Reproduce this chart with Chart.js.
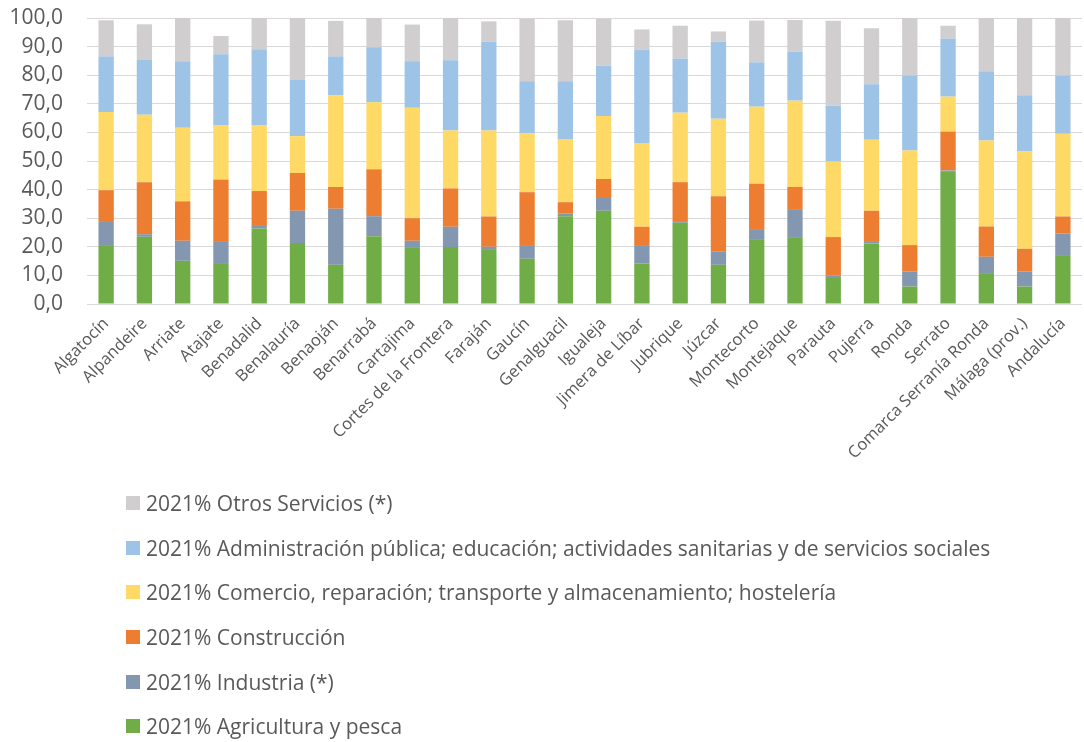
<!DOCTYPE html>
<html>
<head>
<meta charset="utf-8">
<script src="https://cdn.jsdelivr.net/npm/chart.js@4/dist/chart.umd.min.js"></script>
<style>
  body { margin: 0; background: #fff; }
  #wrap { position: relative; width: 1084px; height: 742px; }
  #legend { position: absolute; left: 126px; top: 481px; font-family: 'Open Sans', sans-serif; font-size: 21px; color: #595959; }
  .item { display: flex; align-items: center; height: 44.6px; white-space: nowrap; }
  .box { width: 14px; height: 14px; margin-right: 6px; }
</style>
</head>
<body>
<div id="wrap">
  <canvas id="chart" width="1084" height="742"></canvas>
  <div id="legend"></div>
</div>
<script>
// Municipios
const categories = ['Algatocín', 'Alpandeire', 'Arriate', 'Atajate', 'Benadalid', 'Benalauría', 'Benaoján',
  'Benarrabá', 'Cartajima', 'Cortes de la Frontera', 'Faraján', 'Gaucín', 'Genalguacil', 'Igualeja',
  'Jimera de Líbar', 'Jubrique', 'Júzcar', 'Montecorto', 'Montejaque', 'Parauta', 'Pujerra', 'Ronda',
  'Serrato', 'Comarca Serranía Ronda', 'Málaga (prov.)', 'Andalucía'];

// % of employment by sector, 2021
const agricultura = [20.6, 23.5, 15.1, 14.0, 26.4, 21.3, 13.7, 23.7, 19.6, 19.9, 18.9, 15.8, 30.7, 32.6,
  14.1, 28.4, 13.7, 22.4, 23.1, 9.1, 21.1, 6.1, 46.2, 10.8, 6.1, 16.8];
const industria = [8.4, 0.9, 7.0, 7.7, 1.2, 11.3, 19.6, 7.0, 2.5, 7.1, 1.1, 4.5, 1.0, 4.8,
  6.5, 0.6, 4.7, 3.8, 9.8, 0.9, 0.9, 5.2, 0.5, 5.7, 5.2, 7.8];
const construccion = [10.8, 18.2, 13.8, 21.8, 11.9, 13.2, 7.6, 16.4, 7.9, 13.4, 10.6, 18.8, 3.9, 6.3,
  6.4, 13.6, 19.3, 15.9, 8.0, 13.4, 10.6, 9.3, 13.6, 10.6, 8.0, 6.0];
const comercio = [27.3, 23.6, 25.7, 18.9, 23.1, 12.9, 32.0, 23.4, 38.6, 20.3, 30.1, 20.5, 22.1, 22.0,
  29.3, 24.3, 27.1, 26.9, 30.2, 26.4, 24.8, 33.1, 12.2, 30.1, 34.0, 28.9];
const administracion = [19.5, 19.1, 23.3, 24.9, 26.5, 19.6, 13.7, 19.3, 16.3, 24.5, 31.0, 18.3, 20.2, 17.7,
  32.6, 18.9, 26.9, 15.5, 17.1, 19.5, 19.4, 26.2, 20.3, 24.2, 19.7, 20.4];
const otros = [12.6, 12.5, 15.1, 6.4, 10.9, 21.7, 12.4, 10.2, 12.8, 14.8, 7.1, 21.8, 21.3, 16.3,
  7.1, 11.5, 3.6, 14.6, 11.1, 29.7, 19.6, 20.1, 4.5, 18.6, 27.0, 20.1];

const yTicks = [0, 10, 20, 30, 40, 50, 60, 70, 80, 90, 100];

const FONT = "'Open Sans', sans-serif";
const TEXT = '#595959';

const series = [
  { label: '2021% Agricultura y pesca', data: agricultura, color: '#70ad47' },
  { label: '2021% Industria (*)', data: industria, color: '#8497b0' },
  { label: '2021% Construcción', data: construccion, color: '#ed7d31' },
  { label: '2021% Comercio, reparación; transporte y almacenamiento; hostelería', data: comercio, color: '#ffd966' },
  { label: '2021% Administración pública; educación; actividades sanitarias y de servicios sociales', data: administracion, color: '#9dc3e6' },
  { label: '2021% Otros Servicios (*)', data: otros, color: '#d0cece' }
];

const chart = new Chart(document.getElementById('chart'), {
  type: 'bar',
  data: {
    labels: categories,
    datasets: series.map(s => ({
      label: s.label,
      data: s.data,
      backgroundColor: s.color,
      borderWidth: 0,
      barPercentage: 0.4,
      categoryPercentage: 1
    }))
  },
  options: {
    responsive: false,
    animation: false,
    layout: { padding: { top: 18, right: 2, left: 0, bottom: 0 } },
    plugins: {
      legend: { display: false },
      tooltip: { enabled: false }
    },
    scales: {
      x: {
        stacked: true,
        grid: { display: false },
        border: { display: false },
        ticks: {
          color: TEXT,
          font: { family: FONT, size: 16.5 },
          minRotation: 45,
          maxRotation: 45,
          autoSkip: false,
          padding: 2
        },
        afterFit(scale) { scale.height = 742 - 304; }
      },
      y: {
        stacked: true,
        min: 0,
        max: 100,
        grid: { color: '#d9d9d9', lineWidth: 1, drawTicks: false },
        border: { display: false },
        afterBuildTicks(scale) { scale.ticks = yTicks.map(v => ({ value: v })); },
        ticks: {
          color: TEXT,
          font: { family: FONT, size: 21 },
          padding: 24,
          autoSkip: false,
          callback: v => v.toFixed(1).replace('.', ',')
        },
        afterFit(scale) {
          scale.width = 87;
          // tick padding would otherwise push the plot top down
          scale.paddingTop = 12;
          scale.paddingBottom = 12;
        }
      }
    }
  }
});

// vertical legend, top item = last dataset
const legend = document.getElementById('legend');
chart.data.datasets.slice().reverse().forEach(ds => {
  const item = document.createElement('div');
  item.className = 'item';
  const box = document.createElement('span');
  box.className = 'box';
  box.style.background = ds.backgroundColor;
  const txt = document.createElement('span');
  txt.textContent = ds.label;
  item.appendChild(box);
  item.appendChild(txt);
  legend.appendChild(item);
});
</script>
</body>
</html>
